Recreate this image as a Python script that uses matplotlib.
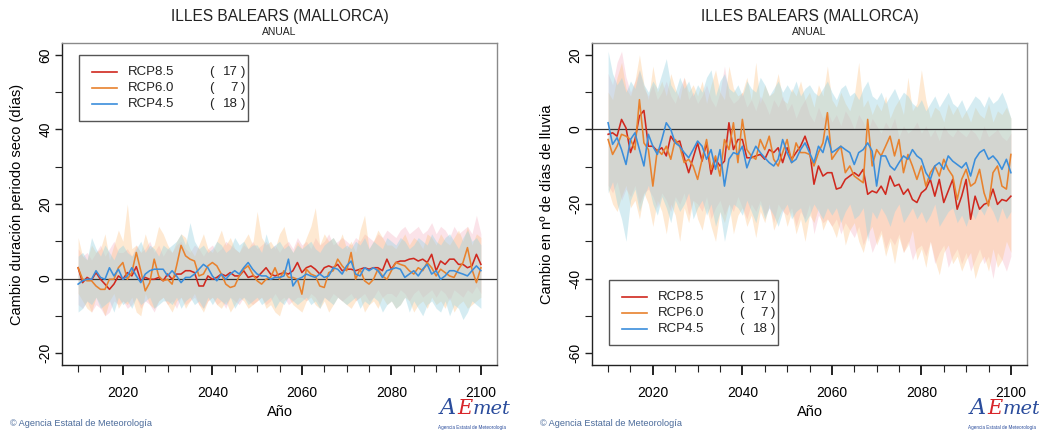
import matplotlib
matplotlib.use("Agg")
import matplotlib.pyplot as plt
import numpy as np
from matplotlib.lines import Line2D
from matplotlib.patches import Rectangle

plt.rcParams['font.family'] = ['Liberation Sans', 'DejaVu Sans']

years = list(range(2010, 2101))
scen_names = ["RCP8.5", "RCP6.0", "RCP4.5"]
scen_counts = [17, 7, 18]
title_txt = "ILLES BALEARS (MALLORCA)"
subtitle_txt = "ANUAL"
ylabel_left = "Cambio duración periodo seco (días)"
ylabel_right = "Cambio en nº de días de lluvia"
xlabel_txt = "Año"
xtick_labels = [2020, 2040, 2060, 2080, 2100]

# ---------------- Left panel: dry period duration change ----------------
L_red = [2.9, -1.1, 0.3, -0.4, 1.6, -0.2, -1.5, -2.9, -1.5, 0.7,
         -0.2, 1.6, 0.7, 3.2, -0.6, 0.3, -0.2, -0.2, 0.3, -0.6,
         1.2, -0.2, 1.2, 1.2, 2.1, 2.1, 1.6, -2.0, -2.0, 0.7,
         -0.2, 0.3, 1.2, 0.7, 1.6, 0.7, 0.7, 2.1, 0.3, 0.7,
         0.3, 1.6, 2.9, 1.2, 0.7, 1.2, 1.6, 1.2, 2.1, 4.3,
         1.6, 2.9, 3.4, 2.5, 1.2, 2.9, 3.4, 2.9, 3.8, 2.1,
         2.5, 2.5, 2.1, 2.5, 2.9, 2.5, 2.9, 2.9, 2.1, 5.2,
         2.5, 4.3, 4.7, 4.7, 5.2, 5.4, 4.7, 5.2, 4.3, 6.5,
         2.1, 4.7, 3.8, 5.2, 5.2, 3.8, 3.8, 2.9, 3.4, 6.5,
         3.8]
L_orange = [2.9, -0.2, -0.6, -0.6, -2.0, -2.9, -2.9, -0.2, -0.2, 2.9,
            4.3, -0.2, 1.6, 7.0, 2.1, -3.3, -1.1, 5.2, 0.7, -0.6,
            -0.2, -1.5, 3.4, 8.9, 6.1, 5.2, 4.7, 0.7, 1.2, 3.4,
            4.3, 3.4, 1.2, -1.5, -2.4, -2.0, 0.7, 2.5, 3.4, 1.2,
            -0.6, -1.5, -0.2, 0.3, 2.9, -0.2, 2.1, 0.3, 0.3, -0.2,
            -4.2, 2.5, 1.2, 0.7, -2.0, -2.4, 1.6, 2.1, 5.2, 3.4,
            2.1, 7.0, -0.2, 2.5, -0.6, -1.5, -0.2, 2.5, 0.7, -0.2,
            2.1, 4.3, 3.8, 3.4, 2.1, 1.2, 2.9, 2.1, 4.3, 2.9,
            0.7, 2.5, 1.6, 0.7, 0.3, 2.5, 4.3, 8.3, 2.5, -1.1,
            2.9]
L_blue = [-1.5, -0.6, -0.2, -0.2, 2.1, 0.3, -0.2, 2.9, 0.7, 2.5,
          -0.2, 0.7, 2.9, 0.7, -1.1, 1.2, 2.1, 2.5, 2.5, 2.5,
          0.7, 2.1, 0.7, -1.1, 0.3, 0.3, 1.2, 2.5, 3.8, 2.9,
          0.7, -0.6, 1.2, -0.2, 1.2, 2.1, 1.2, 2.9, 4.3, 2.5,
          1.2, 0.7, 0.7, -0.2, 0.3, 0.3, 0.7, 5.2, -2.0, -0.2,
          0.3, 1.2, 0.7, 0.3, 1.2, 0.3, 0.7, 2.9, 2.5, 1.2,
          3.4, 4.7, 1.2, 0.7, 2.9, 2.1, 2.9, 2.1, 0.3, 2.1,
          2.5, 2.9, 2.5, 0.3, 1.2, 2.1, 0.7, 2.5, 3.8, 1.2,
          2.1, -0.2, 0.7, 2.1, 2.1, 1.6, 1.2, 0.7, 2.1, 3.4,
          2.1]
L_red_hi = [8, 6, 7, 5, 7, 9, 6, 8, 10, 7,
            7, 8, 6, 9, 7, 8, 10, 7, 9, 6,
            8, 7, 9, 10, 8, 7, 9, 8, 6, 8,
            9, 7, 8, 10, 9, 8, 7, 9, 8, 10,
            8, 9, 10, 8, 9, 7, 9, 10, 8, 11,
            9, 10, 8, 11, 9, 10, 12, 9, 10, 11,
            10, 9, 11, 10, 12, 11, 10, 12, 11, 13,
            12, 11, 13, 14, 12, 13, 14, 12, 13, 15,
            12, 14, 13, 11, 14, 12, 13, 14, 12, 17,
            12]
L_red_lo = [-7, -8, -6, -9, -7, -8, -10, -9, -6, -7,
            -6, -8, -7, -5, -8, -6, -7, -9, -6, -5,
            -7, -6, -8, -5, -7, -6, -5, -7, -8, -6,
            -5, -7, -6, -8, -5, -6, -7, -5, -6, -7,
            -6, -5, -7, -6, -4, -6, -5, -7, -6, -5,
            -5, -6, -4, -5, -7, -5, -6, -4, -5, -6,
            -5, -4, -6, -5, -4, -6, -5, -3, -5, -4,
            -4, -5, -3, -4, -6, -4, -3, -5, -4, -3,
            -5, -3, -4, -6, -3, -4, -5, -3, -4, -2,
            -4]
L_orange_hi = [11, 6, 5, 9, 7, 8, 12, 5, 9, 13,
               10, 20, 8, 9, 7, 12, 8, 9, 14, 12,
               9, 7, 10, 12, 11, 8, 6, 9, 12, 8,
               7, 10, 13, 9, 11, 8, 7, 10, 12, 9,
               18, 11, 9, 10, 8, 12, 14, 9, 7, 10,
               8, 11, 14, 19, 9, 12, 10, 11, 9, 12,
               8, 10, 7, 13, 17, 8, 10, 13, 11, 9,
               9, 8, 10, 12, 9, 11, 10, 8, 12, 11,
               9, 12, 10, 9, 11, 13, 10, 14, 9, 12,
               11]
L_orange_lo = [-4, -6, -8, -9, -5, -7, -10, -6, -4, -8,
               -6, -7, -5, -9, -10, -4, -7, -8, -6, -5,
               -7, -9, -6, -5, -8, -6, -4, -7, -9, -6,
               -5, -7, -8, -6, -9, -7, -5, -6, -8, -7,
               -6, -5, -8, -7, -9, -10, -6, -5, -7, -8,
               -9, -6, -5, -7, -8, -6, -9, -7, -5, -6,
               -7, -8, -6, -5, -9, -7, -6, -8, -5, -7,
               -6, -8, -7, -5, -6, -9, -7, -6, -8, -5,
               -7, -6, -8, -5, -9, -7, -6, -8, -7, -6,
               -5]
L_blue_hi = [6, 7, 5, 11, 8, 6, 9, 7, 5, 8,
             9, 7, 6, 8, 10, 7, 9, 8, 6, 9,
             8, 9, 10, 12, 9, 15, 10, 8, 9, 7,
             8, 10, 9, 7, 8, 11, 9, 10, 8, 9,
             9, 7, 12, 8, 9, 10, 8, 9, 7, 9,
             8, 9, 10, 8, 7, 9, 10, 11, 9, 8,
             9, 8, 10, 9, 11, 8, 10, 9, 8, 11,
             10, 9, 11, 10, 8, 9, 11, 10, 9, 12,
             10, 9, 11, 12, 10, 8, 11, 13, 10, 11,
             9]
L_blue_lo = [-9, -8, -6, -7, -5, -8, -7, -6, -9, -5,
             -7, -6, -8, -5, -7, -6, -5, -8, -7, -6,
             -6, -7, -5, -8, -6, -5, -7, -6, -8, -5,
             -7, -5, -6, -7, -5, -8, -6, -5, -7, -6,
             -5, -7, -6, -5, -8, -6, -7, -5, -6, -7,
             -6, -5, -7, -6, -8, -5, -6, -7, -5, -6,
             -7, -6, -5, -8, -6, -7, -5, -6, -9, -7,
             -6, -8, -7, -5, -9, -6, -8, -10, -7, -6,
             -8, -9, -6, -10, -7, -8, -11, -9, -6, -7,
             -8]

# ---------------- Right panel: change in number of rain days ----------------
R_red = [-1.3, -0.9, -1.8, 2.7, 0.4, -6.2, -2.7, 3.6, 5.1, -4.5,
         -4.5, -5.8, -4.9, -7.1, -1.8, -3.6, -3.1, -7.6, -11.6, -7.6,
         -3.6, -8.5, -3.6, -12.0, -8.0, -9.8, -8.5, 1.8, -5.4, -2.7,
         -2.7, -7.6, -7.6, -7.1, -6.7, -8.0, -5.4, -6.2, -4.9, -8.9,
         -4.9, -8.0, -6.2, -4.5, -1.8, -5.4, -14.7, -9.8, -12.5, -11.6,
         -11.6, -16.0, -15.6, -13.4, -12.5, -11.6, -12.5, -10.7, -17.4, -16.5,
         -17.0, -15.2, -17.4, -12.5, -15.2, -14.7, -17.4, -16.0, -18.8, -19.6,
         -17.0, -16.0, -13.4, -17.9, -13.4, -19.6, -16.5, -13.4, -21.4, -17.9,
         -13.4, -24.1, -17.9, -21.4, -20.1, -19.6, -16.0, -20.1, -18.8, -19.2,
         -17.9]
R_orange = [-2.7, -6.7, -4.5, -1.3, -1.8, -2.7, -5.4, 8.0, -3.6, -5.4,
            -15.2, -5.4, -6.7, -4.5, -8.0, -2.7, -4.5, -8.9, -8.0, -9.8,
            -13.4, -8.0, -2.7, -10.7, -7.1, -12.5, -2.7, -5.4, 1.8, -8.9,
            2.7, -5.4, -7.1, -8.0, -2.7, -5.4, -1.8, -8.0, -9.8, -6.2,
            -2.7, -8.9, -3.6, -6.2, -6.2, -6.7, -9.8, -6.2, -3.6, 4.5,
            -8.0, -6.2, -4.5, -11.6, -9.8, -12.5, -13.4, -14.3, 2.7, -9.8,
            -5.4, -7.1, -4.5, -1.8, -7.1, -2.7, -11.6, -6.7, -9.8, -13.4,
            -9.8, -15.2, -11.6, -9.8, -12.5, -8.0, -10.7, -12.5, -18.8, -13.4,
            -10.7, -15.2, -14.3, -10.7, -17.0, -20.5, -11.6, -9.8, -15.2, -16.0,
            -6.7]
R_blue = [1.8, -4.0, -2.2, -5.4, -9.4, -2.7, -0.9, -5.4, -9.8, -1.3,
          -4.5, -6.7, -2.7, 1.8, 0.0, -3.6, -4.5, -6.2, -7.6, -5.4,
          -3.1, -4.5, -8.0, -5.4, -10.7, -5.4, -15.2, -8.0, -6.2, -6.7,
          -4.5, -10.3, -7.1, -4.5, -6.2, -7.6, -8.9, -9.8, -8.0, -2.7,
          -6.2, -8.9, -8.0, -5.4, -3.6, -6.2, -8.9, -4.5, -6.2, -1.8,
          -6.2, -5.4, -4.5, -5.4, -6.2, -9.4, -6.2, -5.4, -3.6, -5.8,
          -15.2, -7.1, -7.1, -9.8, -10.9, -8.9, -7.1, -8.0, -5.4, -7.1,
          -8.0, -11.6, -13.4, -9.8, -8.9, -10.7, -7.1, -8.5, -9.4, -10.3,
          -8.9, -12.5, -8.0, -6.2, -5.4, -8.0, -7.1, -8.5, -10.7, -8.0,
          -11.6]
R_red_hi = [15, 12, 18, 21, 14, 10, 13, 16, 11, 9,
            12, 8, 10, 13, 9, 7, 11, 14, 8, 10,
            7, 9, 12, 8, 6, 10, 17, 9, 7, 8,
            10, 6, 8, 5, 9, 7, 4, 8, 6, 9,
            5, 7, 3, 6, 8, 4, 2, 6, 3, 5,
            2, 4, 1, 5, 3, 0, 4, 2, -1, 3,
            1, -1, 2, 0, 3, -2, 1, -1, 0, 2,
            -1, 1, -2, 0, -3, 1, -1, -2, 0, -1,
            -2, 0, -1, -3, 1, -2, -1, 0, -2, -3,
            -1]
R_red_lo = [-15, -17, -14, -19, -16, -18, -15, -20, -17, -16,
            -18, -21, -17, -19, -22, -18, -20, -17, -23, -19,
            -20, -22, -18, -24, -21, -19, -23, -20, -22, -18,
            -21, -24, -20, -22, -19, -23, -21, -25, -20, -22,
            -23, -21, -26, -22, -24, -20, -28, -23, -25, -24,
            -26, -24, -28, -25, -27, -29, -26, -31, -28, -33,
            -30, -27, -32, -29, -31, -28, -33, -30, -35, -32,
            -31, -34, -30, -36, -33, -31, -37, -34, -32, -36,
            -33, -38, -35, -32, -36, -34, -40, -33, -35, -38,
            -34]
R_orange_hi = [10, 8, 14, 18, 11, 9, 13, 20, 12, 8,
               17, 10, 13, 9, 15, 11, 8, 14, 10, 12,
               9, 13, 7, 12, 16, 10, 8, 17, 11, 9,
               10, 14, 8, 18, 7, 12, 9, 10, 15, 8,
               7, 11, 9, 13, 8, 10, 6, 12, 9, 17,
               8, 6, 10, 7, 5, 9, 18, 6, 8, 4,
               7, 5, 9, 3, 6, 8, 4, 14, 5, 7,
               16, 8, 3, 6, 5, 2, 7, 4, 6, 3,
               5, 2, 6, 4, 3, 7, 2, 5, 4, 6,
               3]
R_orange_lo = [-16, -20, -22, -18, -15, -21, -19, -24, -17, -20,
               -26, -19, -22, -28, -20, -23, -30, -21, -25, -19,
               -24, -27, -21, -26, -30, -22, -25, -20, -28, -23,
               -21, -26, -23, -29, -22, -25, -20, -27, -24, -21,
               -26, -22, -28, -24, -30, -23, -25, -21, -27, -24,
               -26, -29, -24, -31, -27, -25, -30, -33, -28, -26,
               -31, -28, -34, -30, -36, -29, -33, -31, -27, -35,
               -32, -37, -30, -35, -39, -33, -31, -36, -34, -38,
               -35, -33, -40, -36, -34, -38, -32, -37, -35, -30,
               -33]
R_blue_hi = [21, 15, 12, 14, 10, 13, 11, 16, 12, 10,
             13, 11, 15, 19, 12, 10, 14, 11, 13, 9,
             12, 10, 14, 16, 9, 13, 15, 11, 10, 12,
             9, 13, 11, 10, 14, 12, 9, 11, 13, 10,
             12, 10, 13, 9, 11, 12, 10, 9, 11, 13,
             10, 8, 11, 12, 9, 10, 8, 11, 13, 9,
             8, 10, 7, 9, 11, 8, 10, 9, 7, 6,
             8, 5, 7, 9, 6, 8, 10, 7, 6, 8,
             5, 7, 9, 8, 6, 9, 7, 8, 10, 7,
             3]
R_blue_lo = [-17, -14, -20, -24, -30, -19, -16, -22, -18, -15,
             -20, -23, -18, -21, -25, -19, -22, -20, -17, -24,
             -21, -19, -23, -20, -26, -22, -30, -24, -20, -21,
             -23, -19, -22, -25, -20, -24, -21, -23, -26, -22,
             -20, -24, -22, -21, -25, -23, -20, -22, -24, -21,
             -23, -21, -25, -22, -20, -24, -23, -21, -30, -22,
             -24, -21, -23, -26, -22, -20, -25, -23, -21, -24,
             -22, -25, -23, -20, -26, -24, -22, -21, -25, -23,
             -26, -22, -24, -21, -23, -20, -22, -25, -21, -24,
             -22]

line_colors = ["#D0281E", "#E8822E", "#3B8EDB"]
fill_colors = ["#F4A3B8", "#FDC284", "#9CD4E2"]
fill_alphas = [0.30, 0.36, 0.42]

W, H = 1039, 432
fig = plt.figure(figsize=(W / 100, H / 100), dpi=100)


def make_panel(left_px, means, his, los, ylabel, yticks, ylim, legend_pos):
    ax = fig.add_axes([left_px / W, (H - 365) / H, 435 / W, 322 / H])
    for hi, lo, fc, fa in zip(his, los, fill_colors, fill_alphas):
        ax.fill_between(years, lo, hi, color=fc, alpha=fa, lw=0)
    ax.axhline(0, color="#333333", lw=0.9, zorder=3)
    for m, lc in zip(means, line_colors):
        ax.plot(years, m, color=lc, lw=1.15, zorder=4)
    ax.set_xlim(2006.4, 2103.6)
    ax.set_ylim(*ylim)
    ax.set_xticks(xtick_labels)
    ax.set_xticklabels([str(v) for v in xtick_labels], fontsize=10)
    ax.set_xticks(list(range(2010, 2101, 5)), minor=True)
    ax.set_yticks(yticks)
    ax.set_yticklabels([str(v) for v in yticks], fontsize=10, rotation=90, va="center")
    ax.set_yticks(list(range(yticks[0], yticks[-1] + 1, 10)), minor=True)
    ax.tick_params(axis="x", which="major", length=7, width=1.4, pad=8, color="#222222")
    ax.tick_params(axis="x", which="minor", length=5, width=0.8, color="#222222")
    ax.tick_params(axis="y", which="major", length=5, width=1.0, pad=2, color="#222222")
    ax.tick_params(axis="y", which="minor", length=5, width=0.8, color="#222222")
    for s in ["top", "right"]:
        ax.spines[s].set_color("#8a8a8a")
        ax.spines[s].set_linewidth(1.0)
    for s in ["left", "bottom"]:
        ax.spines[s].set_color("#222222")
        ax.spines[s].set_linewidth(1.0)
    ax.set_ylabel(ylabel, fontsize=10.5, labelpad=10)
    ax.set_xlabel(xlabel_txt, fontsize=10.5, labelpad=4)
    ax.text(0.5, 1.081, title_txt, transform=ax.transAxes, ha="center", va="center",
            fontsize=11.2, color="#222222")
    ax.text(0.5, 1.034, subtitle_txt, transform=ax.transAxes, ha="center", va="center",
            fontsize=7.5, color="#222222")
    # legend
    x0, x1, y0, y1 = legend_pos
    ax.add_patch(Rectangle((x0, y0), x1 - x0, y1 - y0, transform=ax.transAxes,
                           facecolor="white", edgecolor="#555555", lw=1.0, zorder=6))
    rows = [y1 - 0.053 - i * 0.05 for i in range(3)]
    for yy, nm, cnt, lc in zip(rows, scen_names, scen_counts, line_colors):
        ax.add_line(Line2D([x0 + 0.030, x0 + 0.088], [yy, yy], transform=ax.transAxes,
                           color=lc, lw=1.2, zorder=7))
        ax.text(x0 + 0.113, yy, nm, transform=ax.transAxes, ha="left", va="center",
                fontsize=9.5, color="#222222", zorder=7)
        ax.text(x0 + 0.300, yy, "(", transform=ax.transAxes, ha="left", va="center",
                fontsize=9.5, color="#222222", zorder=7)
        ax.text(x0 + 0.365, yy, str(cnt), transform=ax.transAxes, ha="right", va="center",
                fontsize=9.5, color="#222222", zorder=7)
        ax.text(x0 + 0.372, yy, ")", transform=ax.transAxes, ha="left", va="center",
                fontsize=9.5, color="#222222", zorder=7)
    return ax


axL = make_panel(62, [L_red, L_orange, L_blue], [L_red_hi, L_orange_hi, L_blue_hi],
                 [L_red_lo, L_orange_lo, L_blue_lo], ylabel_left, [-20, 0, 20, 40, 60],
                 (-23.2, 63.2), (0.039, 0.428, 0.758, 0.963))
axR = make_panel(592, [R_red, R_orange, R_blue], [R_red_hi, R_orange_hi, R_blue_hi],
                 [R_red_lo, R_orange_lo, R_blue_lo], ylabel_right, [-60, -40, -20, 0, 20],
                 (-63.2, 23.2), (0.039, 0.428, 0.062, 0.264))

# footer / logos
for xoff in [0, 530]:
    fig.text((10 + xoff) / W, 1 - 424 / H, "© Agencia Estatal de Meteorología",
             fontsize=6.6, color="#4a6a9a", ha="left", va="center")
    lx = 440 + xoff
    fig.text(lx / W, 1 - 408 / H, "A", fontsize=16, color="#2a4c9c", ha="left",
             va="center", style="italic", family="DejaVu Serif")
    fig.text((lx + 17) / W, 1 - 409 / H, "E", fontsize=15, color="#d8262a", ha="left",
             va="center", style="italic", family="DejaVu Serif")
    fig.text((lx + 33) / W, 1 - 409 / H, "met", fontsize=14, color="#2a4c9c", ha="left",
             va="center", style="italic", family="DejaVu Serif")
    fig.text((lx - 2) / W, 1 - 428 / H, "Agencia Estatal de Meteorología", fontsize=3.3,
             color="#2a4c9c", ha="left", va="center")

fig.savefig("out.png", dpi=100)
